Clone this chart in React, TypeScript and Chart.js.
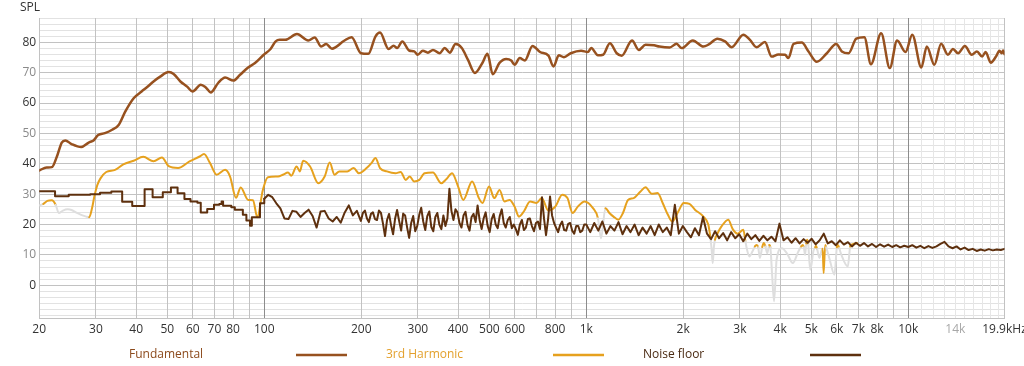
import { useEffect, useRef } from 'react';
import { Chart, registerables } from 'chart.js';

Chart.register(...registerables);

// ---------- data ----------
const fundamentalFreq = [
  20, 21.1, 21.9, 22.7, 23.5, 24.1, 25.2, 27.0, 28.5, 29.5, 30.5, 32.0, 33.7, 35.3, 37.0, 39.3, 41.6, 43.2, 45.3, 47.5,
  50.5, 52.3, 54.9, 57.6, 59.9, 63.5, 65.7, 68.2, 71.9, 75.6, 80.2, 84.1, 89.1, 93.6, 99.6, 104.6, 108.5, 111.7, 116.2, 126.3,
  137.0, 143.4, 150.3, 155.7, 162.3, 177.0, 186.7, 199.7, 210.5, 221.4, 228.8, 243.2, 252.3, 258.6, 268.3, 281.7, 292.2, 299.4, 310.8, 322.2,
  334.1, 350.5, 363.4, 376.8, 392.7, 410.6, 429.3, 450.9, 475.7, 493.4, 512.3, 537.6, 564.0, 584.7, 599.3, 621.3, 644.4, 680.9, 718.6, 763.0,
  791.3, 821.6, 852.3, 895.2, 963.6, 1011, 1036, 1087, 1128, 1184, 1243, 1289, 1387, 1456, 1528, 1624, 1687, 1816, 1907, 1978,
  2142, 2311, 2394, 2555, 2697, 2829, 3075, 3223, 3380, 3588, 3764, 3949, 4143, 4244, 4403, 4671, 4900, 5199, 5587, 5971,
  6219, 6524, 6894, 7303, 7657, 8236, 8763, 9232, 9806, 10289, 10981, 11418, 12049, 12649, 13280, 13768, 14277, 14993, 15736, 16337,
  16957, 17386, 18043, 18726, 19200, 19500, 19700, 19900,
];
const fundamentalDb = [
  37.8, 38.8, 38.9, 42.4, 47.0, 47.7, 46.5, 45.5, 47.0, 47.7, 49.5, 50.1, 51.2, 52.8, 57.2, 61.6, 63.8, 65.2, 67.1, 68.7,
  70.2, 69.6, 67.1, 65.4, 63.8, 66.0, 65.2, 63.5, 66.6, 68.4, 67.4, 69.3, 71.7, 73.2, 75.9, 77.8, 80.3, 80.8, 80.8, 82.7,
  80.6, 81.6, 78.6, 79.4, 77.9, 80.5, 81.7, 76.4, 76.2, 81.9, 83.2, 77.8, 78.9, 78.1, 80.3, 77.3, 77.0, 75.9, 77.2, 76.6,
  77.5, 76.4, 78.1, 76.6, 79.4, 78.1, 74.2, 69.9, 73.2, 76.2, 69.5, 73.2, 74.5, 74.0, 72.6, 74.8, 74.0, 78.8, 76.8, 75.6,
  72.0, 75.7, 75.1, 76.4, 77.2, 76.8, 78.1, 75.7, 75.9, 79.7, 76.4, 75.6, 80.6, 77.5, 79.2, 79.0, 78.6, 78.3, 79.5, 78.1,
  80.6, 78.6, 79.2, 81.2, 80.3, 78.4, 82.5, 80.8, 78.4, 80.1, 75.3, 76.0, 75.9, 74.8, 79.5, 79.9, 77.0, 73.6, 76.4, 79.4,
  77.0, 76.4, 81.2, 81.7, 72.8, 83.0, 71.5, 80.6, 76.8, 82.5, 71.7, 78.6, 72.6, 79.5, 75.9, 77.8, 76.4, 78.8, 75.9, 77.0,
  75.3, 76.8, 73.3, 75.3, 77.2, 76.4, 77.3, 76.1,
];

const harmonicFreq = [
  20.0, 20.6, 21.2, 21.9, 22.5, 23.0, 23.7, 24.5, 25.2, 26.0,
  27.0, 28.0, 28.6, 29.2, 29.7, 30.3, 31.0, 32.3, 34.4, 36.5,
  39.3, 42.1, 45.3, 48.1, 50.5, 54.0, 58.6, 63.0, 65.0, 67.8,
  71.1, 75.6, 78.3, 81.7, 84.5, 89.1, 92.3, 95.1, 99.0, 102.6,
  110.3, 114.3, 118.5, 121.3, 126.0, 129.0, 132.0, 138.8, 147.2, 154.0,
  159.7, 165.3, 171.0, 181.0, 189.5, 196.6, 207.9, 215.8, 221.4, 228.8,
  240.3, 255.6, 265.2, 275.1, 283.0, 292.0, 303.0, 314.7, 334.0, 354.8,
  368.0, 383.0, 400.0, 415.0, 442.0, 464.0, 476.0, 499.0, 518.0, 538.0,
  557.0, 578.0, 599.0, 618.0, 640.0, 669.0, 701.0, 727.0, 763.0, 801.0,
  842.0, 874.0, 907.0, 941.0, 988.0, 1049, 1087, 1111, 1147, 1180,
  1215, 1258, 1300, 1348, 1404, 1474, 1528, 1597, 1666, 1727,
  1793, 1850, 1931, 2006, 2092, 2175, 2311, 2394, 2430, 2450,
  2470, 2490, 2510, 2560, 2630, 2760, 2850, 2950, 3075, 3120,
  3160, 3210, 3280, 3340, 3380, 3420, 3460, 3520, 3560, 3600,
  3650, 3700, 3730, 3780, 3830, 3900, 4050, 4200, 4380, 4550,
  4650, 4700, 4740, 4780, 4820, 4850, 4890, 4960, 5080, 5140,
  5170, 5210, 5300, 5380, 5420, 5460, 5520, 5560, 5700, 5900,
  6000, 6050, 6100, 6200, 6490, 6600, 6650, 6930,
];
const harmonicDb = [
  26.3, 26.8, 27.8, 28.0, 26.5, 23.8, 24.6, 25.0, 24.8, 24.0,
  23.2, 22.6, 22.4, 25.5, 29.5, 33.0, 35.2, 37.3, 38.0, 39.8,
  41.0, 42.3, 40.8, 42.1, 39.2, 38.6, 40.8, 42.4, 43.2, 40.3,
  36.4, 38.0, 35.8, 28.8, 32.2, 28.1, 28.0, 22.4, 31.4, 35.6,
  35.8, 36.4, 37.1, 36.1, 39.1, 37.5, 41.0, 39.1, 33.6, 35.8,
  40.4, 36.4, 37.5, 37.5, 38.6, 36.9, 38.6, 40.4, 41.9, 38.6,
  37.5, 36.9, 37.3, 34.7, 35.8, 34.2, 34.7, 36.9, 37.1, 33.6,
  35.0, 36.9, 32.5, 28.1, 34.2, 28.7, 27.1, 32.5, 28.7, 31.4,
  27.6, 28.1, 25.9, 22.6, 24.3, 27.6, 27.1, 28.7, 24.6, 25.9,
  29.8, 28.7, 23.8, 25.9, 27.6, 25.4, 22.1, 15.5, 25.4, 23.8,
  22.6, 21.6, 23.8, 28.1, 28.7, 30.9, 32.3, 30.1, 30.4, 27.1,
  23.2, 21.0, 24.3, 27.1, 26.8, 24.9, 22.6, 19.9, 15.5, 12.0,
  7.3, 12.5, 15.0, 17.2, 19.4, 21.6, 18.5, 17.0, 18.3, 14.5,
  11.5, 9.5, 11.1, 12.8, 13.3, 12.5, 9.0, 12.6, 13.9, 12.8,
  10.5, 13.3, 12.5, 2.9, -5.3, 8.4, 12.2, 10.5, 7.3, 11.0,
  12.8, 13.3, 12.5, 10.0, 13.8, 15.0, 13.5, 5.1, 11.5, 12.5,
  13.0, 12.0, 9.0, 11.5, 12.0, 4.0, 13.3, 12.5, 8.5, 3.5,
  12.5, 13.3, 12.3, 10.0, 6.2, 12.8, 13.3, 13.9,
];
// 1 = point lies below the noise floor (line drawn grey next to it)
const harmonicBelowNoise = [
  1, 0, 0, 0, 0, 1, 1, 1, 1, 1,
  1, 1, 0, 0, 0, 0, 0, 0, 0, 0,
  0, 0, 0, 0, 0, 0, 0, 0, 0, 0,
  0, 0, 0, 0, 0, 0, 0, 0, 0, 0,
  0, 0, 0, 0, 0, 0, 0, 0, 0, 0,
  0, 0, 0, 0, 0, 0, 0, 0, 0, 0,
  0, 0, 0, 0, 0, 0, 0, 0, 0, 0,
  0, 0, 0, 0, 0, 0, 0, 0, 0, 0,
  0, 0, 0, 0, 0, 0, 0, 0, 0, 0,
  0, 0, 0, 0, 0, 0, 0, 1, 0, 0,
  0, 0, 0, 0, 0, 0, 0, 0, 0, 0,
  0, 0, 0, 0, 0, 0, 0, 0, 0, 1,
  1, 1, 0, 0, 0, 0, 0, 0, 0, 0,
  1, 1, 1, 0, 0, 0, 1, 0, 0, 0,
  1, 0, 0, 1, 1, 1, 1, 1, 1, 1,
  0, 0, 0, 1, 0, 0, 0, 1, 1, 0,
  0, 0, 1, 1, 0, 0, 0, 0, 1, 1,
  0, 0, 0, 1, 1, 0, 0, 0,
];

const noiseLowFreq = [
  20, 22.4, 24.7, 28.8, 30.9, 33.5, 36.2, 38.9, 42.5, 45.0, 48.4, 51.3, 53.8, 56.5, 59.0,
  62.0, 63.5, 66.5, 69.8, 72.5, 73.7, 74.5, 79.0, 81.0, 85.8, 88.0, 90.3, 91.5, 97.0, 100,
];
const noiseLowDb = [
  31.0, 29.3, 29.8, 30.0, 30.5, 30.9, 27.5, 26.1, 31.6, 29.0, 30.6, 32.2, 30.3, 28.4, 27.6,
  27.2, 24.0, 25.1, 26.5, 26.8, 27.6, 26.2, 25.7, 24.9, 23.2, 21.3, 19.6, 22.4, 27.0, 28.5,
];

const noiseFreq = [
  100, 102.9, 105.9, 109.0, 112.2, 115.5, 118.9, 122.3, 125.9, 129.6,
  133.4, 137.3, 141.3, 145.4, 149.6, 154.0, 158.5, 163.1, 167.9, 172.8,
  177.8, 183.0, 188.4, 193.9, 199.5, 202.4, 205.4, 208.4, 211.3, 214.4,
  217.5, 220.7, 223.9, 227.1, 230.4, 233.8, 237.1, 240.6, 244.1, 247.6,
  251.2, 254.9, 258.5, 262.3, 266.1, 270.0, 273.8, 277.8, 281.8, 285.9,
  290.1, 294.3, 298.5, 302.9, 307.2, 311.7, 316.2, 320.8, 325.5, 330.2,
  335.0, 339.8, 344.7, 349.7, 354.8, 360.0, 365.2, 370.5, 375.8, 381.3,
  386.8, 392.4, 398.1, 403.9, 409.7, 415.7, 421.7, 427.8, 434.0, 440.3,
  446.7, 453.2, 459.7, 466.4, 473.2, 480.0, 487.0, 494.1, 501.2, 508.5,
  515.8, 523.3, 530.9, 538.6, 546.4, 554.3, 562.3, 570.5, 578.7, 587.1,
  595.7, 604.3, 613.1, 622.0, 631.0, 640.1, 649.4, 658.8, 668.3, 678.0,
  687.9, 697.8, 707.9, 718.2, 728.6, 739.2, 749.9, 760.8, 771.8, 783.0,
  794.3, 805.8, 817.5, 829.4, 841.4, 853.6, 866.0, 878.6, 891.3, 904.2,
  917.3, 930.6, 944.1, 957.8, 971.7, 985.8, 1000, 1029, 1059, 1090,
  1122, 1155, 1189, 1223, 1259, 1296, 1334, 1372, 1413, 1454,
  1496, 1540, 1585, 1631, 1679, 1728, 1778, 1830, 1884, 1939,
  1995, 2054, 2113, 2175, 2239, 2304, 2371, 2441, 2512, 2585,
  2661, 2738, 2818, 2901, 2985, 3072, 3162, 3255, 3350, 3447,
  3548, 3652, 3758, 3868, 3981, 4097, 4217, 4340, 4467, 4597,
  4732, 4870, 5012, 5158, 5309, 5464, 5623, 5787, 5957, 6131,
  6310, 6494, 6683, 6879, 7079, 7286, 7499, 7718, 7943, 8175,
  8414, 8660, 8913, 9173, 9441, 9717, 10000, 10292, 10593, 10902,
  11220, 11548, 11885, 12232, 12589, 12957, 13335, 13725, 14125, 14538,
  14962, 15399, 15849, 16312, 16788, 17278, 17783, 18302, 18836, 19387,
  19900,
];
const noiseDb = [
  28.5, 29.8, 29.0, 27.0, 25.3, 22.0, 21.8, 24.5, 24.2, 22.5,
  23.8, 24.9, 22.8, 19.0, 24.3, 24.5, 22.0, 21.0, 22.5, 20.6,
  24.0, 26.3, 23.0, 24.5, 21.2, 23.8, 24.6, 22.0, 20.8, 23.5,
  24.0, 21.8, 21.5, 24.6, 23.8, 20.2, 16.2, 21.5, 23.5, 19.8,
  16.8, 22.0, 24.8, 21.2, 18.0, 23.6, 23.0, 19.0, 15.6, 20.5,
  22.8, 17.8, 19.5, 23.2, 25.5, 21.0, 18.2, 22.8, 24.3, 19.2,
  17.8, 22.5, 23.8, 20.0, 18.5, 23.0, 19.5, 22.0, 31.8, 24.5,
  21.5, 25.0, 24.0, 20.5, 19.0, 23.0, 24.2, 19.8, 18.0, 22.5,
  23.5, 20.8, 26.3, 21.5, 18.5, 22.0, 24.0, 19.5, 17.5, 21.8,
  23.5, 20.0, 18.8, 22.8, 25.0, 20.5, 19.0, 21.5, 22.5, 18.8,
  20.0, 18.5, 16.6, 20.0, 21.5, 18.2, 19.0, 21.8, 22.0, 19.5,
  17.8, 20.5, 21.0, 18.5, 29.0, 22.0, 16.5, 21.5, 29.2, 23.0,
  20.5, 19.0, 17.5, 19.8, 21.0, 18.2, 18.0, 20.2, 20.5, 18.0,
  17.0, 19.5, 19.5, 17.5, 18.0, 20.0, 20.0, 17.5, 20.5, 18.0,
  21.0, 17.0, 19.5, 18.0, 20.8, 16.8, 19.5, 17.5, 20.0, 16.5,
  19.0, 17.0, 19.5, 16.5, 20.0, 17.5, 19.0, 16.5, 26.5, 17.0,
  19.5, 17.5, 15.8, 18.8, 16.5, 22.5, 17.0, 15.2, 17.8, 15.5,
  17.2, 14.8, 17.5, 15.5, 16.8, 14.5, 17.0, 15.2, 16.5, 14.6,
  16.3, 14.8, 16.0, 14.5, 20.3, 14.8, 15.8, 14.0, 15.5, 13.8,
  15.2, 14.0, 15.3, 13.5, 14.8, 17.0, 13.8, 14.5, 13.2, 14.8,
  13.4, 14.2, 12.8, 14.0, 13.0, 13.9, 12.8, 13.6, 12.6, 13.5,
  12.7, 13.4, 12.6, 13.2, 12.5, 13.0, 12.6, 13.2, 12.4, 13.0,
  12.2, 12.9, 12.3, 12.8, 13.6, 14.3, 12.8, 12.2, 12.8, 11.8,
  12.4, 11.6, 12.0, 11.3, 11.8, 11.4, 11.9, 11.5, 11.8, 11.6,
  12.0,
];

const xTickValues = [
  20, 30, 40, 50, 60, 70, 80, 90, 100, 200, 300, 400, 500, 600, 700, 800, 900, 1000,
  2000, 3000, 4000, 5000, 6000, 7000, 8000, 9000, 10000,
  11000, 12000, 13000, 14000, 15000, 16000, 17000, 18000, 19000, 19900,
];
const xTickLabels = [
  '20', '30', '40', '50', '60', '70', '80', '', '100', '200', '300', '400', '500', '600', '', '800', '', '1k',
  '2k', '3k', '4k', '5k', '6k', '7k', '8k', '', '10k',
  '', '', '', '14k', '', '', '', '', '', '19.9kHz',
];
const yTickValues = [
  -10, -8, -6, -4, -2, 0, 2, 4, 6, 8, 10, 12, 14, 16, 18, 20, 22, 24, 26, 28, 30, 32, 34, 36, 38, 40,
  42, 44, 46, 48, 50, 52, 54, 56, 58, 60, 62, 64, 66, 68, 70, 72, 74, 76, 78, 80, 82, 84, 86, 88,
];
const yLabelValues = [0, 10, 20, 30, 40, 50, 60, 70, 80];
const legendLabels = ['Fundamental', '3rd Harmonic', 'Noise floor'];
const axisTitle = 'SPL';

// ---------- styles ----------
const FONT = '"Open Sans", "Noto Sans", sans-serif';
const C_FUND = '#97511f';
const C_HARM = '#e6a11e';
const C_NOISE = '#5e300e';
const C_GREY = '#dedede';
const LEGEND_TEXT = ['#8c4a1c', '#e3a02c', '#4a2a12'];
const LEGEND_LINE = [C_FUND, C_HARM, C_NOISE];

const pairs = (xs: number[], ys: number[]) => xs.map((x, i) => ({ x, y: ys[i] }));

const overlay = {
  id: 'overlay',
  afterDraw(chart: any) {
    const ctx = chart.ctx;
    ctx.save();
    ctx.font = `12px ${FONT}`;
    ctx.textBaseline = 'middle';
    ctx.textAlign = 'left';
    ctx.fillStyle = '#333';
    ctx.fillText(axisTitle, 20, 8);
    legendLabels.forEach((label, i) => {
      const tx = 129 + 257 * i;
      const lx = 296 + 257 * i;
      ctx.fillStyle = LEGEND_TEXT[i];
      ctx.fillText(label, tx, 355);
      ctx.strokeStyle = LEGEND_LINE[i];
      ctx.lineWidth = 2.5;
      ctx.beginPath();
      ctx.moveTo(lx, 355);
      ctx.lineTo(lx + 51, 355);
      ctx.stroke();
    });
    ctx.restore();
  },
};

export default function App() {
  const ref = useRef<HTMLCanvasElement>(null);

  useEffect(() => {
    document.body.style.margin = '0';
    if (!ref.current) return;
    Chart.defaults.font.family = FONT;
    const chart = new Chart(ref.current, {
      type: 'line',
      data: {
        datasets: [
          {
            label: 'Noise floor',
            data: pairs(noiseLowFreq, noiseLowDb),
            borderColor: C_NOISE,
            borderWidth: 2,
            stepped: true,
          },
          {
            label: 'Noise floor hf',
            data: pairs(noiseFreq, noiseDb),
            borderColor: C_NOISE,
            borderWidth: 2,
          },
          {
            label: 'Fundamental',
            data: pairs(fundamentalFreq, fundamentalDb),
            borderColor: C_FUND,
            borderWidth: 2.5,
            cubicInterpolationMode: 'monotone',
          },
          {
            label: '3rd Harmonic',
            data: pairs(harmonicFreq, harmonicDb),
            borderColor: C_HARM,
            borderWidth: 2,
            cubicInterpolationMode: 'monotone',
            segment: {
              borderColor: (c: any) =>
                harmonicBelowNoise[c.p0DataIndex] || harmonicBelowNoise[c.p1DataIndex] ? C_GREY : C_HARM,
            },
          },
        ],
      },
      options: {
        animation: false,
        responsive: false,
        devicePixelRatio: 1,
        layout: { padding: { top: 18, right: 19.5, bottom: 27.3, left: 0 } },
        plugins: { legend: { display: false }, tooltip: { enabled: false } },
        elements: { point: { radius: 0 }, line: { borderCapStyle: 'round', borderJoinStyle: 'round' } },
        scales: {
          x: {
            type: 'logarithmic',
            min: 20,
            max: 19900,
            afterBuildTicks: (s: any) => {
              s.ticks = xTickValues.map((v) => ({ value: v }));
            },
            afterFit: (s: any) => {
              s.height = 20;
              s.paddingLeft = 0;
              s.paddingRight = 0;
            },
            ticks: {
              autoSkip: false,
              maxRotation: 0,
              minRotation: 0,
              padding: 4,
              font: { size: 12, family: FONT },
              color: (c: any) => (c.tick && c.tick.value === 14000 ? '#a8a8a8' : '#333'),
              callback: (v: any) => {
                const i = xTickValues.indexOf(Number(v));
                return i >= 0 ? xTickLabels[i] : '';
              },
            },
            grid: {
              z: -1,
              drawTicks: false,
              color: (c: any) => {
                const v = c.tick ? c.tick.value : 0;
                if (v === 100 || v === 1000 || v === 10000) return '#8c8c8c';
                if (v > 10000 && v < 19900) return '#e6e6e6';
                return '#c2c2c2';
              },
            },
            border: { color: '#c2c2c2' },
          },
          y: {
            min: -11,
            max: 88,
            afterBuildTicks: (s: any) => {
              s.ticks = yTickValues.map((v) => ({ value: v }));
            },
            afterFit: (s: any) => {
              s.width = 39.2;
              s.paddingTop = 0;
              s.paddingBottom = 0;
            },
            ticks: {
              autoSkip: false,
              padding: 3,
              font: { size: 12, family: FONT },
              color: (c: any) => {
                const v = c.tick ? c.tick.value : 0;
                return (v / 10) % 2 === 0 ? '#333' : '#8a8a8a';
              },
              callback: (v: any) => (yLabelValues.indexOf(Number(v)) >= 0 ? String(v) : ''),
            },
            grid: {
              z: -2,
              drawTicks: false,
              color: (c: any) => {
                const v = c.tick ? c.tick.value : 1;
                return yLabelValues.indexOf(v) >= 0 ? '#c2c2c2' : '#e2e2e2';
              },
            },
            border: { color: '#c2c2c2' },
          },
        },
      },
      plugins: [overlay],
    } as any);
    return () => chart.destroy();
  }, []);

  return (
    <div style={{ width: 1024, height: 366 }}>
      <canvas ref={ref} width={1024} height={366} style={{ display: 'block' }} />
    </div>
  );
}
